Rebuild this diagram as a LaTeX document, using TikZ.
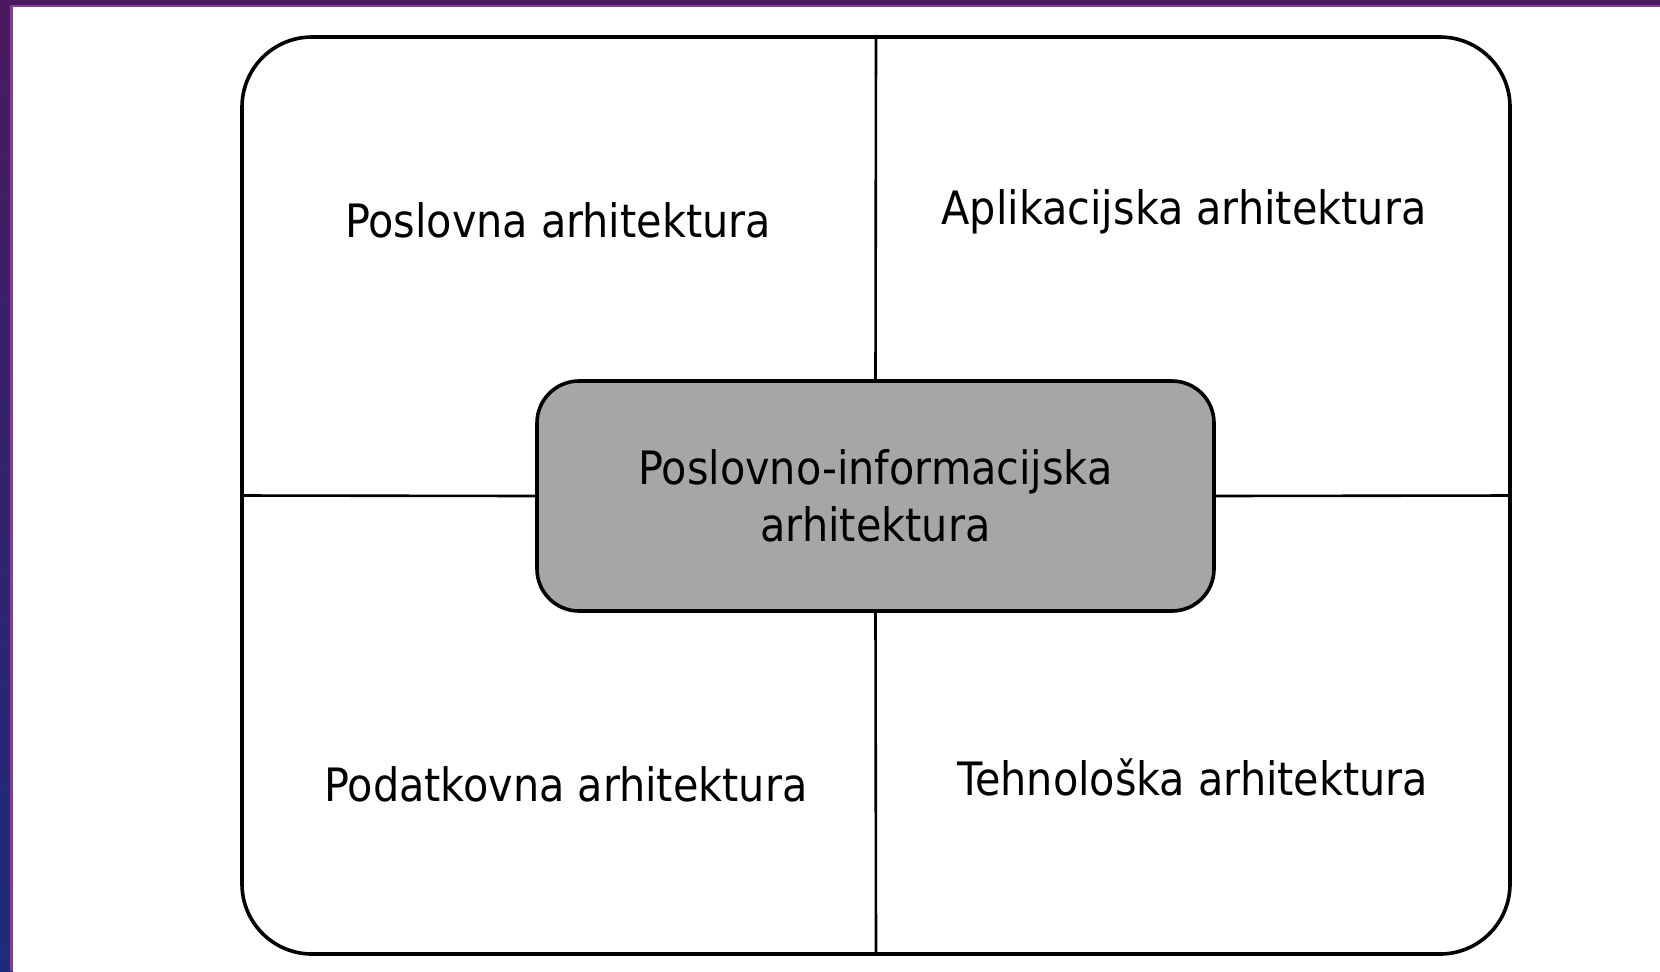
\documentclass[tikz,border=0pt]{standalone}
\usepackage{fontspec}
\setmainfont{DejaVu Sans Condensed}
\usetikzlibrary{positioning}

\definecolor{slidepurple}{HTML}{4A1A60}
\definecolor{slideblue}{HTML}{1C2C7C}
\definecolor{edgepurple}{HTML}{8A3A9C}
\definecolor{coregray}{HTML}{A6A6A6}

\tikzset{
  frame/.style = {draw, line width=1.8pt, rounded corners=35pt, minimum width=634pt, minimum height=458.5pt},
  core/.style = {draw, line width=1.8pt, fill=coregray, rounded corners=21pt, minimum width=338.5pt, minimum height=115pt, align=center},
  part/.style = {font=\fontsize{23}{27}\selectfont},
  divider/.style = {line width=1.3pt}
}

\begin{document}
\begin{tikzpicture}[x=0.5pt, y=-0.5pt]
	\useasboundingbox (0,0) rectangle (1660,971);
	% slide background
	\shade[top color=slidepurple, bottom color=slideblue] (0,0) rectangle (13,971);
	\fill[slidepurple] (0,0) rectangle (1660,7);
	\fill[edgepurple] (10,5) rectangle (1660,7);
	\fill[edgepurple] (10,5) rectangle (13,971);
	\fill[white] (13,7) rectangle (1660,971);
	% frame and the core in its middle
	\node[frame] (frame) at (876,495.5) {};
	\node[core, part, font=\fontsize{23}{28.5}\selectfont] (core) at (875.5,496) {Poslovno-informacijska\\arhitektura};
	\draw[divider] (frame.north) -- (core.north);
	\draw[divider] (core.south) -- (frame.south);
	\draw[divider] (frame.west) -- (core.west);
	\draw[divider] (core.east) -- (frame.east);
	% the four parts
	\node[part] (biz) at (558,220) {Poslovna arhitektura};
	\node[part] (app) at (1184,212) {Aplikacijska arhitektura};
	\node[part] (data) at (566,784) {Podatkovna arhitektura};
	\node[part] (tech) at (1193,777) {Tehnološka arhitektura};
\end{tikzpicture}
\end{document}
